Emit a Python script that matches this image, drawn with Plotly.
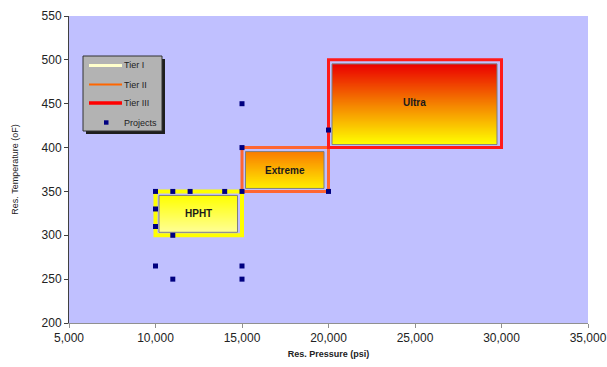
import base64, struct, zlib
import plotly.graph_objects as go

# ---------------- data ----------------
tier_names = ["Tier I", "Tier II", "Tier III"]
box_labels = ["HPHT", "Extreme", "Ultra"]
pressure_min = [10000, 15000, 20000]
pressure_max = [15000, 20000, 30000]
temp_min = [300, 350, 400]
temp_max = [350, 400, 500]

project_pressure = [10000, 11000, 12000, 14000, 15000, 10000, 10000, 11000,
                    10000, 11000, 15000, 15000, 15000, 15000, 20000, 20000]
project_temp = [350, 350, 350, 350, 350, 330, 310, 300,
                265, 250, 265, 250, 450, 400, 350, 420]

x_ticks = [5000, 10000, 15000, 20000, 25000, 30000, 35000]
y_ticks = [200, 250, 300, 350, 400, 450, 500, 550]

# ---------------- styles ----------------
W, H = 607, 367
ML, MR, MT, MB = 69, 19, 16, 44
PW, PH = W - ML - MR, H - MT - MB
X_RANGE = [5000, 35000]
Y_RANGE = [200, 550]
psi_per_px = (X_RANGE[1] - X_RANGE[0]) / PW
deg_per_px = (Y_RANGE[1] - Y_RANGE[0]) / PH

outline_colors = ["#FFFF00", "#FF6633", "#FF1A1A"]
outline_widths = [4, 3, 3]
legend_colors = ["#FFFFCC", "#FF6600", "#FF0000"]
legend_widths = [3, 2, 3.5]
marker_color = "#000080"
gradient_stops = [
    [(255, 255, 0), (255, 255, 150)],
    [(250, 125, 0), (255, 238, 0)],
    [(235, 0, 0), (245, 130, 0), (255, 255, 0)],
]
FONT = "Liberation Sans, Arial, sans-serif"


def px_x(px):
    return (px - ML) / PW


def px_y(py):
    return (H - MB - py) / PH


def gradient_png(stops, n=96):
    rows = b""
    for i in range(n):
        t = i / (n - 1)
        seg = min(int(t * (len(stops) - 1)), len(stops) - 2)
        lt = t * (len(stops) - 1) - seg
        a, b = stops[seg], stops[seg + 1]
        px = bytes(int(round(a[k] + (b[k] - a[k]) * lt)) for k in range(3))
        rows += b"\x00" + px * 2

    def chunk(tag, data):
        c = struct.pack(">I", len(data)) + tag + data
        return c + struct.pack(">I", zlib.crc32(tag + data) & 0xFFFFFFFF)

    png = b"\x89PNG\r\n\x1a\n"
    png += chunk(b"IHDR", struct.pack(">IIBBBBB", 2, n, 8, 2, 0, 0, 0))
    png += chunk(b"IDAT", zlib.compress(rows))
    png += chunk(b"IEND", b"")
    return "data:image/png;base64," + base64.b64encode(png).decode()


fig = go.Figure()

fig.add_trace(go.Scatter(
    x=project_pressure, y=project_temp, mode="markers", name="Projects",
    marker=dict(symbol="square", size=5, color=marker_color), showlegend=False))

images, shapes, annotations = [], [], []

# tier outlines (between background and traces)
for i in range(len(tier_names)):
    shapes.append(dict(type="rect", xref="x", yref="y",
                       x0=pressure_min[i], x1=pressure_max[i], y0=temp_min[i], y1=temp_max[i],
                       line=dict(color=outline_colors[i], width=outline_widths[i]),
                       layer="between"))

# inner gradient label boxes
inset_l, inset_r, inset_t, inset_b = 3.5 * psi_per_px, 4.5 * psi_per_px, 4 * deg_per_px, 3 * deg_per_px
for i in range(len(tier_names)):
    x0 = pressure_min[i] + inset_l
    x1 = pressure_max[i] - inset_r
    y0 = temp_min[i] + inset_b
    y1 = temp_max[i] - inset_t
    images.append(dict(source=gradient_png(gradient_stops[i]), xref="x", yref="y",
                       x=x0, y=y1, sizex=x1 - x0, sizey=y1 - y0,
                       sizing="stretch", xanchor="left", yanchor="top", layer="below"))
    shapes.append(dict(type="rect", xref="x", yref="y", x0=x0, x1=x1, y0=y0, y1=y1,
                       line=dict(color="#7F7F7F", width=1), layer="between"))
    annotations.append(dict(x=(x0 + x1) / 2, y=(y0 + y1) / 2 + (2 if i == 2 else 0),
                            xref="x", yref="y", text="<b>%s</b>" % box_labels[i],
                            showarrow=False, font=dict(family=FONT, size=10, color="#1a1a1a")))

# ---- legend box (drawn by hand to match the reference's compact frame) ----
LX0, LX1, LY0, LY1 = 83, 162, 56, 131
shapes.append(dict(type="rect", xref="paper", yref="paper",
                   x0=px_x(LX0 + 3), x1=px_x(LX1 + 3), y0=px_y(LY1 + 3), y1=px_y(LY0 + 3),
                   fillcolor="#1e1e1e", line=dict(width=0), layer="above"))
shapes.append(dict(type="rect", xref="paper", yref="paper",
                   x0=px_x(LX0), x1=px_x(LX1), y0=px_y(LY1), y1=px_y(LY0),
                   fillcolor="#B3B3B3", line=dict(color="#333", width=1), layer="above"))
legend_names = tier_names + ["Projects"]
row_y = [65.5, 84.5, 103, 122.5]
for i, name in enumerate(legend_names):
    if i < len(tier_names):
        shapes.append(dict(type="line", xref="paper", yref="paper",
                           x0=px_x(89), x1=px_x(122), y0=px_y(row_y[i]), y1=px_y(row_y[i]),
                           line=dict(color=legend_colors[i], width=legend_widths[i]), layer="above"))
    else:
        shapes.append(dict(type="rect", xref="paper", yref="paper",
                           x0=px_x(104), x1=px_x(108.5), y0=px_y(row_y[i] + 2.2), y1=px_y(row_y[i] - 2.2),
                           fillcolor=marker_color, line=dict(width=0), layer="above"))
    annotations.append(dict(x=px_x(121.5), y=px_y(row_y[i]), xref="paper", yref="paper",
                            xanchor="left", yanchor="middle", text=name, showarrow=False,
                            font=dict(family=FONT, size=9, color="#222")))

fig.update_layout(
    width=W, height=H,
    margin=dict(l=ML, r=MR, t=MT, b=MB, autoexpand=False),
    paper_bgcolor="white", plot_bgcolor="#C0C0FF",
    font=dict(family=FONT, color="#222"),
    images=images, shapes=shapes, annotations=annotations,
    showlegend=False,
    xaxis=dict(range=X_RANGE, tickvals=x_ticks, tickformat=",d", showgrid=False, zeroline=False,
               automargin=False,
               showline=True, linecolor="#909090", linewidth=1, ticks="outside", ticklen=4,
               tickcolor="#909090", tickfont=dict(size=12, color="#222"),
               title=dict(text="<b>Res. Pressure (psi)</b>", font=dict(size=9, color="#222"), standoff=6)),
    yaxis=dict(range=Y_RANGE, tickvals=y_ticks, showgrid=False, zeroline=False,
               automargin=False,
               showline=True, linecolor="#404040", linewidth=1, ticks="outside", ticklen=4,
               tickcolor="#404040", tickfont=dict(size=12, color="#222"),
               title=dict(text="Res. Temperature (oF)", font=dict(size=9, color="#222"), standoff=21)),
)

fig.write_html("out.html", config={"displayModeBar": False},
               post_script="document.body.style.margin='0px';")
